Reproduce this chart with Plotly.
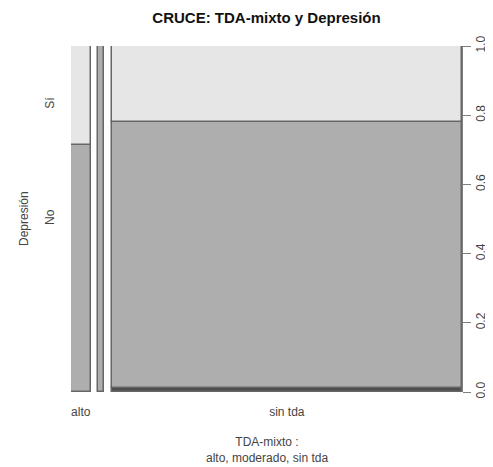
import plotly.graph_objects as go

# Spineplot: CRUCE TDA-mixto x Depresión
categorias = ["alto", "moderado", "sin tda"]
ancho_columna = [0.052, 0.016, 0.932]          # share of cases per TDA-mixto level
niveles = ["", "No", "Sí"]                      # Depresión levels (first one has no label)
prop_vacio = [0.000, 0.000, 0.012]
prop_no = [0.713, 1.000, 0.768]
prop_si = [0.287, 0.000, 0.220]
colores = ["#4D4D4D", "#AEAEAE", "#E6E6E6"]

etiquetas_x = ["alto", "", "sin tda"]
ticks_y = [0.0, 0.2, 0.4, 0.6, 0.8, 1.0]

off = 0.02  # gap between columns

# column positions
izq = []
pos = 0.0
for w in ancho_columna:
    izq.append(pos)
    pos += w + off
centros = [l + w / 2 for l, w in zip(izq, ancho_columna)]
x_max = pos - off

fig = go.Figure()
base = [0.0] * len(categorias)
for nivel, props, color in zip(niveles, [prop_vacio, prop_no, prop_si], colores):
    fig.add_trace(go.Bar(
        x=centros,
        y=props,
        base=base,
        width=ancho_columna,
        name=nivel,
        marker=dict(color=color, line=dict(color="#666666", width=1.5)),
        showlegend=False,
    ))
    base = [b + p for b, p in zip(base, props)]

# page body has an 8px margin, so the figure is 8px smaller than the window
fig.update_layout(
    width=485,
    height=459,
    margin=dict(l=63, r=31, t=38, b=75),
    plot_bgcolor="white",
    paper_bgcolor="white",
    barmode="overlay",
    bargap=0,
    font=dict(family="Liberation Sans, Arial, sans-serif", size=12, color="#444444"),
    title=dict(
        text="<b>CRUCE: TDA-mixto y Depresión</b>",
        x=(63 + 454) / 2 / 485,
        xanchor="center",
        y=1 - 10 / 459,
        yanchor="middle",
        font=dict(size=15, color="#111111"),
    ),
    xaxis=dict(
        range=[0, x_max],
        tickvals=centros,
        ticktext=etiquetas_x,
        ticks="",
        ticklabelstandoff=11,
        showgrid=False,
        zeroline=False,
        showline=False,
        automargin=False,
    ),
    yaxis=dict(
        range=[0, 1],
        side="right",
        tickvals=ticks_y,
        ticktext=[f"{v:.1f}" for v in ticks_y],
        tickangle=-90,
        ticks="outside",
        ticklen=8,
        tickcolor="#808080",
        showline=True,
        linecolor="#808080",
        showgrid=False,
        zeroline=False,
        automargin=False,
    ),
    yaxis2=dict(
        range=[0, 1],
        overlaying="y",
        side="left",
        tickvals=[0.5, 0.83],
        ticktext=["No", "Sí"],
        tickangle=-90,
        ticks="",
        ticklabelstandoff=14,
        showgrid=False,
        zeroline=False,
        showline=False,
        automargin=False,
    ),
    annotations=[
        dict(text="Depresión", textangle=-90, xref="paper", yref="paper",
             x=(24 - 71) / 391, y=0.5, showarrow=False, xanchor="center", yanchor="middle"),
        dict(text="TDA-mixto :<br>alto, moderado, sin tda", xref="paper", yref="paper",
             x=0.5, y=-(450 - 392) / 346, showarrow=False, xanchor="center", yanchor="middle"),
    ],
)

# dummy trace so yaxis2 is drawn
fig.add_trace(go.Scatter(x=[None], y=[None], yaxis="y2", showlegend=False))

fig.write_html("out.html")
